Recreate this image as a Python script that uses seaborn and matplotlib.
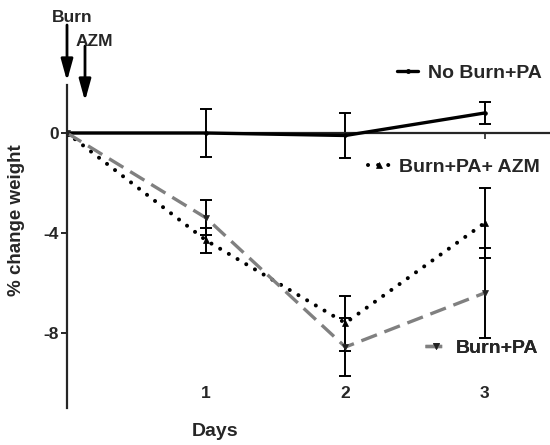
import matplotlib
matplotlib.use("Agg")
import matplotlib.pyplot as plt
import seaborn as sns
from matplotlib.lines import Line2D

# ---- data ----
days = [0, 1, 2, 3]
no_burn_pa = [0.0, 0.0, -0.1, 0.8]
no_burn_pa_err = [0.0, 0.95, 0.9, 0.45]
burn_pa_azm = [0.0, -4.3, -7.6, -3.6]
burn_pa_azm_err = [0.0, 0.5, 1.1, 1.4]
burn_pa = [0.0, -3.4, -8.56, -6.4]
burn_pa_err = [0.0, 0.7, 1.15, 1.8]
series_names = ["No Burn+PA", "Burn+PA+ AZM", "Burn+PA"]
xtick_vals = [1, 2, 3]
ytick_vals = [0, -4, -8]
event_labels = ["Burn", "AZM"]

sns.set_style("ticks")
plt.rcParams["font.family"] = ["Liberation Sans", "DejaVu Sans"]
plt.rcParams["font.weight"] = "bold"

W, H = 550, 445
fig = plt.figure(figsize=(W / 100, H / 100), dpi=100)
ax = fig.add_axes([67 / W, (H - 408) / H, 1 - 67 / W, (408 - 85) / H])

GRAY = "#808080"
styles = [
    dict(color="black", lw=2.4, linestyle="-", marker="o", markersize=2.5,
         markeredgecolor="black", markerfacecolor="black"),
    dict(color="black", lw=2.9, linestyle=(0, (0.01, 2.5)), dash_capstyle="round",
         marker="^", markersize=5, markeredgecolor="black", markerfacecolor="black",
         markeredgewidth=0.5),
    dict(color=GRAY, lw=2.4, linestyle=(0, (5, 2.4)), marker="v", markersize=5,
         markerfacecolor="#222222", markeredgecolor="#222222", markeredgewidth=0.5),
]
vals = [no_burn_pa, burn_pa_azm, burn_pa]
errs = [no_burn_pa_err, burn_pa_azm_err, burn_pa_err]

for v, e in zip(vals, errs):
    ax.errorbar(days[1:], v[1:], yerr=e[1:], fmt="none", ecolor="black",
                elinewidth=1.4, capsize=4, capthick=1.4, zorder=2)
for v, st in zip(vals, styles):
    sns.lineplot(x=days, y=v, ax=ax, zorder=3, **st)

ax.set_xlim(0, 3.47)
ax.set_ylim(-11.0, 1.92)

# axes styling
for s in ["top", "right"]:
    ax.spines[s].set_visible(False)
ax.spines["left"].set_linewidth(1.6)
ax.spines["bottom"].set_position(("data", 0))
ax.spines["bottom"].set_linewidth(1.6)
ax.set_xticks(xtick_vals)
ax.tick_params(axis="x", direction="out", length=4, width=1.2, labelbottom=False)
ax.set_yticks(ytick_vals)
ax.set_yticklabels([str(t) for t in ytick_vals], fontsize=12.5, fontweight="bold")
ax.tick_params(axis="y", direction="out", length=4, width=1.4, pad=2)

sec = ax.secondary_xaxis(0.0)
sec.set_xticks(xtick_vals)
sec.set_xticklabels([str(t) for t in xtick_vals], fontsize=12.5, fontweight="bold")
sec.tick_params(length=0, pad=-16)
sec.spines["bottom"].set_visible(False)
sec.set_xlabel("")

ax.set_xlabel("")
ax.set_ylabel("")
fig.text(215 / W, 1 - 432 / H, "Days", ha="center", va="center",
         fontsize=14, fontweight="bold")
fig.text(17 / W, 1 - 220 / H, "% change weight", ha="center", va="center",
         rotation=90, fontsize=13.5, fontweight="bold")

# legends placed inside
leg_pos = [(397, 73), (368, 167), (425, 348)]
for name, st, (px, py) in zip(series_names, styles, leg_pos):
    h = Line2D([], [], **st)
    lg = ax.legend([h], [name], loc="center left",
                   bbox_to_anchor=(px / W, 1 - py / H), bbox_transform=fig.transFigure,
                   frameon=False, borderpad=0, borderaxespad=0, handlelength=1.1,
                   handletextpad=0.5, prop=dict(size=14, weight="bold"),
                   numpoints=1)
    ax.add_artist(lg)

# event arrows
arrow_specs = [((72, 17), (67, 25), (67, 81)), ((94, 42), (85, 46), (85, 101))]
for lab, (tpos, start, tip) in zip(event_labels, arrow_specs):
    fig.text(tpos[0] / W, 1 - tpos[1] / H, lab, ha="center", va="center",
             fontsize=12.5, fontweight="bold")
    ax.annotate("", xy=(tip[0], H - tip[1]), xycoords="figure pixels",
                xytext=(start[0], H - start[1]), textcoords="figure pixels",
                arrowprops=dict(arrowstyle="-|>,head_length=0.65,head_width=0.18",
                                mutation_scale=20, lw=2.0, color="black",
                                shrinkA=0, shrinkB=0),
                annotation_clip=False)

fig.savefig("out.png", dpi=100)
